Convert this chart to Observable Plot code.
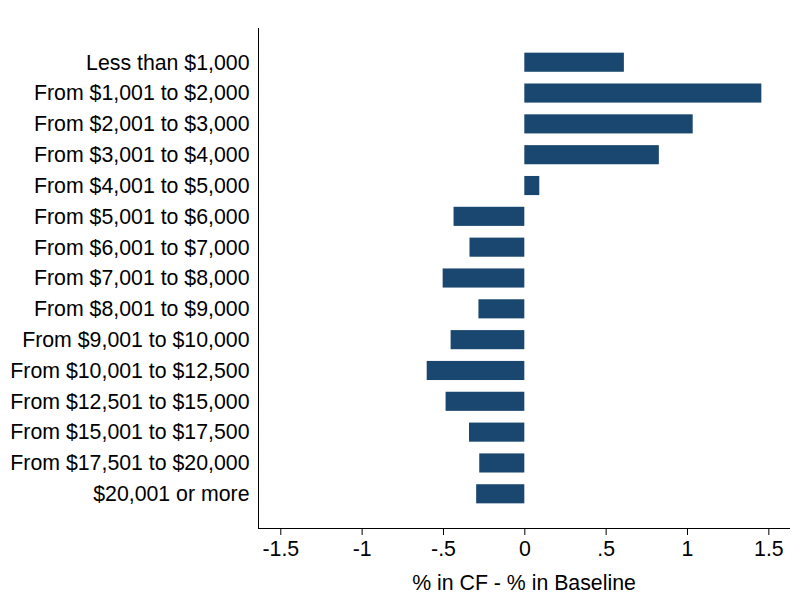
<!DOCTYPE html>
<html>
<head>
<meta charset="utf-8">
<script src="https://cdn.jsdelivr.net/npm/d3@7"></script>
<script src="https://cdn.jsdelivr.net/npm/@observablehq/plot@0.6"></script>
<style>
  html, body { margin: 0; padding: 0; background: #fff; }
  svg { display: block; }
</style>
</head>
<body>
<div id="chart"></div>
<script>
const categories = [
  "Less than $1,000",
  "From $1,001 to $2,000",
  "From $2,001 to $3,000",
  "From $3,001 to $4,000",
  "From $4,001 to $5,000",
  "From $5,001 to $6,000",
  "From $6,001 to $7,000",
  "From $7,001 to $8,000",
  "From $8,001 to $9,000",
  "From $9,001 to $10,000",
  "From $10,001 to $12,500",
  "From $12,501 to $15,000",
  "From $15,001 to $17,500",
  "From $17,501 to $20,000",
  "$20,001 or more"
];
const values = [0.612, 1.457, 1.035, 0.827, 0.092, -0.435, -0.337, -0.502, -0.282, -0.453, -0.600, -0.484, -0.340, -0.277, -0.296];
const xTicks = [-1.5, -1, -0.5, 0, 0.5, 1, 1.5];
const xTitle = "% in CF - % in Baseline";

const data = categories.map((c, i) => ({category: c, value: values[i]}));
const fmt = d => String(d).replace("0.", ".");

const chart = Plot.plot({
  width: 801,
  height: 596,
  marginLeft: 258,
  marginRight: 12,
  marginTop: 28,
  marginBottom: 68,
  style: {fontFamily: "'Liberation Sans', Arial, Helvetica, sans-serif", fontSize: "21.3px", color: "#000", background: "#fff"},
  x: {
    domain: [-1.637, 1.627],
    ticks: xTicks,
    tickFormat: fmt,
    tickSize: 7,
    tickPadding: 5,
    line: true,
    label: xTitle,
    labelArrow: "none",
    labelAnchor: "center",
    labelOffset: 61
  },
  y: {
    domain: categories,
    paddingInner: 0.38,
    paddingOuter: 0.8,
    round: false,
    tickSize: 0,
    tickPadding: 9,
    line: true,
    label: null
  },
  marks: [
    Plot.barX(data, {x: "value", y: "category", fill: "#1a476f"})
  ]
});
document.getElementById("chart").appendChild(chart);
</script>
</body>
</html>
